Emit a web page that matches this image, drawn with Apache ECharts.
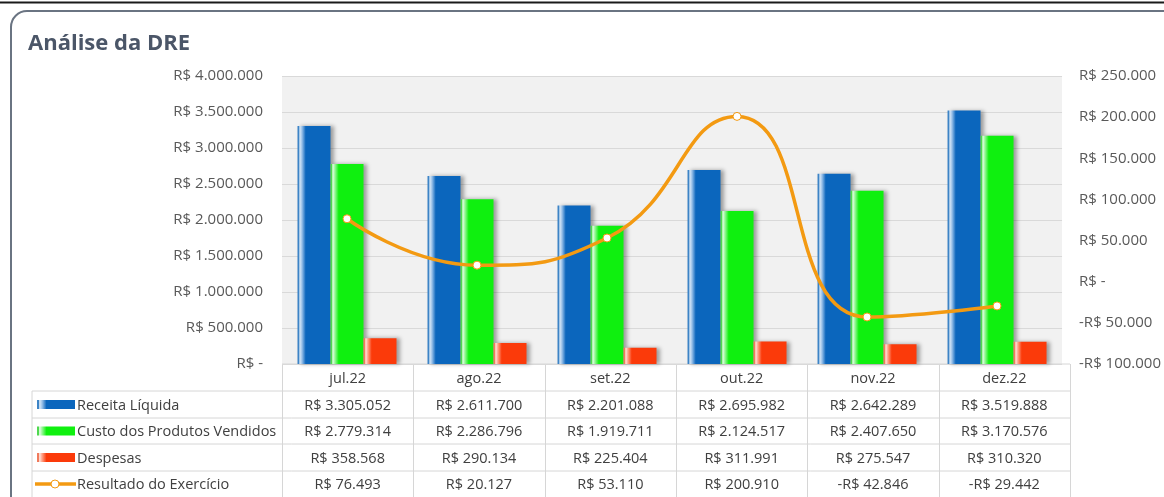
<!DOCTYPE html>
<html>
<head>
<meta charset="utf-8">
<script src="https://cdn.jsdelivr.net/npm/echarts@6/dist/echarts.min.js"></script>
<style>
  html, body { margin: 0; padding: 0; background: #fff; }
  #main { width: 1164px; height: 497px; }
</style>
</head>
<body>
<div id="main"></div>
<script>
// dados do gráfico
var months = ['jul.22', 'ago.22', 'set.22', 'out.22', 'nov.22', 'dez.22'];
var receita = [3305052, 2611700, 2201088, 2695982, 2642289, 3519888];
var custo = [2779314, 2286796, 1919711, 2124517, 2407650, 3170576];
var despesas = [358568, 290134, 225404, 311991, 275547, 310320];
var resultado = [76493, 20127, 53110, 200910, -42846, -29442];
var names = ['Receita Líquida', 'Custo dos Produtos Vendidos', 'Despesas', 'Resultado do Exercício'];

var FONT = '"Open Sans", "Noto Sans", sans-serif';
var TXT = '#404040';

// formata no padrão R$ do Excel
var fmt = function (v) {
  if (v === 0) return 'R$ -';
  var s = Math.abs(v).toString().replace(/\B(?=(\d{3})+(?!\d))/g, '.');
  return (v < 0 ? '-' : '') + 'R$ ' + s;
};

var barGrad = function (edge, light, mid, main) {
  return new echarts.graphic.LinearGradient(0, 0, 1, 0, [
    { offset: 0, color: edge },
    { offset: 0.04, color: edge },
    { offset: 0.07, color: light },
    { offset: 0.13, color: mid },
    { offset: 0.25, color: main },
    { offset: 1, color: main }
  ]);
};
var colBlue = barGrad('#3d84c6', '#d6e7f7', '#9fc4ea', '#0b66bd');
var colGreen = barGrad('#4fd84f', '#e6ffe6', '#9cf79c', '#0ff00f');
var colRed = barGrad('#f07a5c', '#ffe6dd', '#ffa58c', '#fb3a0a');
var orange = '#f39a12';

// layout da tabela
var gL = 282, gR = 1070, gT = 76, gB = 364;
var colW = (gR - gL) / months.length;
var tabL = 32;
var rowY = [364, 391, 418, 444, 471, 497];
var lineCol = '#d6d6d6';

var g = [];
// moldura
g.push({ type: 'line', shape: { x1: 0, y1: 2.5, x2: 1164, y2: 2.5 }, style: { stroke: '#1a1a1a', lineWidth: 2 } });
g.push({ type: 'rect', shape: { x: 11, y: 11, width: 1200, height: 600, r: 16 }, style: { fill: null, stroke: '#6a7482', lineWidth: 2 } });
g.push({ type: 'text', left: 28, top: 33, style: { text: 'Análise da DRE', font: 'bold 22px ' + FONT, fill: '#4b5668' } });

// linhas horizontais
g.push({ type: 'line', shape: { x1: gL, y1: rowY[0], x2: gR, y2: rowY[0] }, style: { stroke: lineCol, lineWidth: 1 } });
for (var r = 1; r < rowY.length - 1; r++) {
  g.push({ type: 'line', shape: { x1: tabL, y1: rowY[r], x2: gR, y2: rowY[r] }, style: { stroke: lineCol, lineWidth: 1 } });
}
// linhas verticais
g.push({ type: 'line', shape: { x1: tabL, y1: rowY[1], x2: tabL, y2: 497 }, style: { stroke: lineCol, lineWidth: 1 } });
for (var c = 0; c <= months.length; c++) {
  var x = Math.round(gL + c * colW) + 0.5;
  g.push({ type: 'line', shape: { x1: x, y1: rowY[0], x2: x, y2: 497 }, style: { stroke: lineCol, lineWidth: 1 } });
}

var rows = [receita, custo, despesas, resultado];
for (var c = 0; c < months.length; c++) {
  var cx = gL + (c + 0.5) * colW;
  g.push({ type: 'text', x: cx, y: (rowY[0] + rowY[1]) / 2 + 1, style: { text: months[c], font: '14.5px ' + FONT, fill: TXT, textAlign: 'center', textVerticalAlign: 'middle' } });
  for (var r = 0; r < rows.length; r++) {
    g.push({ type: 'text', x: cx, y: (rowY[r + 1] + rowY[r + 2]) / 2 + 1, style: { text: fmt(rows[r][c]), font: '14.5px ' + FONT, fill: TXT, textAlign: 'center', textVerticalAlign: 'middle' } });
  }
}

// legenda dentro da tabela
var keyFills = [colBlue, colGreen, colRed];
for (var r = 0; r < names.length; r++) {
  var cy = (rowY[r + 1] + rowY[r + 2]) / 2;
  if (r < 3) {
    g.push({ type: 'rect', shape: { x: 37, y: cy - 4.5, width: 38, height: 9 }, style: { fill: keyFills[r] } });
  } else {
    g.push({ type: 'line', shape: { x1: 35, y1: cy, x2: 76, y2: cy }, style: { stroke: orange, lineWidth: 3.5 } });
    g.push({ type: 'circle', shape: { cx: 55, cy: cy, r: 4 }, style: { fill: '#fff', stroke: orange, lineWidth: 1 } });
  }
  g.push({ type: 'text', x: 77, y: cy + 1, style: { text: names[r], font: '14.5px ' + FONT, fill: TXT, textVerticalAlign: 'middle' } });
}

var chart = echarts.init(document.getElementById('main'));
var barShadow = { shadowColor: 'rgba(0,0,0,0.35)', shadowBlur: 4, shadowOffsetX: 3 };

chart.setOption({
  backgroundColor: '#fff',
  animation: false,
  textStyle: { fontFamily: FONT },
  legend: { show: false },
  grid: {
    left: gL, right: 1164 - gR, top: gT, bottom: 497 - gB,
    show: true, backgroundColor: '#f1f1f1', borderWidth: 0
  },
  xAxis: {
    type: 'category', data: months,
    axisLine: { show: false }, axisTick: { show: false }, axisLabel: { show: false }
  },
  yAxis: [{
    type: 'value', min: 0, max: 4000000, interval: 500000,
    axisLabel: { formatter: fmt, color: '#595959', fontSize: 15, margin: 19, fontFamily: FONT },
    splitLine: { lineStyle: { color: '#d9d9d9', width: 1 } },
    axisLine: { show: false }, axisTick: { show: false }
  }, {
    type: 'value', min: -100000, max: 250000, interval: 50000,
    axisLabel: { formatter: fmt, color: '#595959', fontSize: 15, margin: 17, align: 'left', fontFamily: FONT },
    splitLine: { show: false },
    axisLine: { show: false }, axisTick: { show: false }
  }],
  series: [{
    name: names[0], type: 'bar', data: receita, barWidth: 33, barGap: '0%',
    itemStyle: Object.assign({ color: colBlue }, barShadow)
  }, {
    name: names[1], type: 'bar', data: custo, barWidth: 33, barGap: '0%',
    itemStyle: Object.assign({ color: colGreen }, barShadow)
  }, {
    name: names[2], type: 'bar', data: despesas, barWidth: 33, barGap: '0%',
    itemStyle: Object.assign({ color: colRed }, barShadow)
  }, {
    name: names[3], type: 'line', yAxisIndex: 1, data: resultado, smooth: 0.5,
    symbol: 'circle', symbolSize: 8,
    lineStyle: { color: orange, width: 3.5 },
    itemStyle: { color: '#fff', borderColor: orange, borderWidth: 1 },
    z: 5
  }],
  graphic: { elements: g }
});
</script>
</body>
</html>
